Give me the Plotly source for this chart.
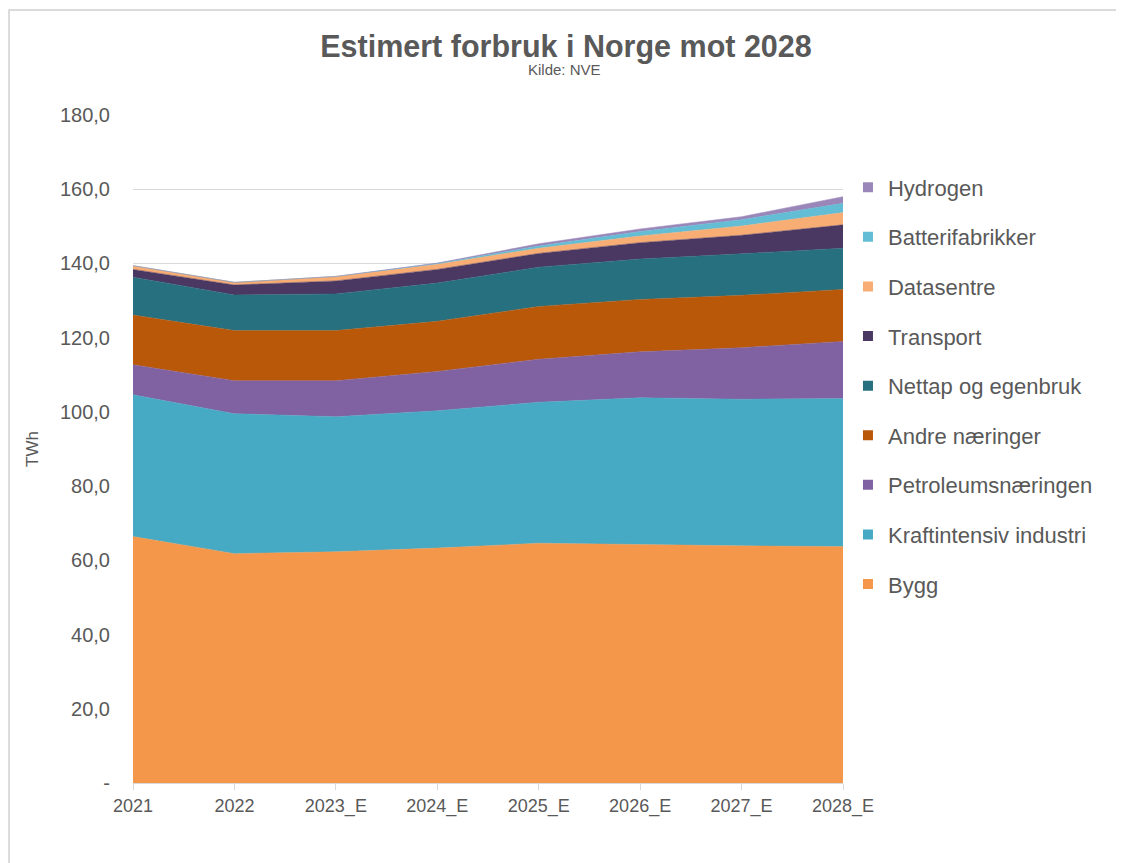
import plotly.graph_objects as go

years = ["2021", "2022", "2023_E", "2024_E", "2025_E", "2026_E", "2027_E", "2028_E"]

bygg = [66.4, 61.8, 62.3, 63.3, 64.6, 64.2, 63.9, 63.7]
kraftintensiv = [38.2, 37.7, 36.4, 37.0, 38.0, 39.6, 39.5, 39.9]
petroleum = [8.1, 8.9, 9.7, 10.6, 11.6, 12.4, 13.9, 15.4]
andre = [13.4, 13.5, 13.5, 13.5, 14.2, 14.1, 14.1, 14.0]
nettap = [10.2, 9.6, 9.9, 10.3, 10.6, 10.9, 11.2, 11.1]
transport = [2.1, 2.7, 3.5, 3.7, 3.7, 4.4, 5.0, 6.3]
datasentre = [1.0, 0.7, 1.2, 1.4, 1.4, 1.8, 2.5, 3.3]
batteri = [0.0, 0.0, 0.0, 0.2, 0.6, 1.2, 1.7, 2.5]
hydrogen = [0.0, 0.0, 0.0, 0.1, 0.6, 0.7, 0.8, 1.8]

y_ticks = [0, 20, 40, 60, 80, 100, 120, 140, 160, 180]
y_ticktext = ["-", "20,0", "40,0", "60,0", "80,0", "100,0", "120,0", "140,0", "160,0", "180,0"]

series = [
    ("Bygg", bygg, "#F4974A"),
    ("Kraftintensiv industri", kraftintensiv, "#47AAC5"),
    ("Petroleumsnæringen", petroleum, "#8062A2"),
    ("Andre næringer", andre, "#BA580A"),
    ("Nettap og egenbruk", nettap, "#27707F"),
    ("Transport", transport, "#4A3863"),
    ("Datasentre", datasentre, "#F7AD74"),
    ("Batterifabrikker", batteri, "#63BDD4"),
    ("Hydrogen", hydrogen, "#9A86B9"),
]

FONT = "Liberation Sans, Arial, sans-serif"
GREY = "#595959"

fig = go.Figure()

# stacked areas (bottom to top)
for name, vals, color in series:
    fig.add_trace(go.Scatter(
        x=years, y=vals,
        name=name,
        mode="lines",
        stackgroup="one",
        showlegend=False,
        line=dict(width=0.5, color=color),
        fillcolor=color,
        hovertemplate=f"{name}<br>%{{x}}: %{{y:.1f}} TWh<extra></extra>",
    ))

# legend entries with square swatches, top layer first
for name, vals, color in reversed(series):
    fig.add_trace(go.Scatter(
        x=[None], y=[None],
        name=name,
        mode="markers",
        legendgroup=name,
        marker=dict(symbol="square", size=10, color=color),
        hoverinfo="skip",
    ))

fig.update_layout(
    width=1116, height=855,
    paper_bgcolor="white",
    plot_bgcolor="white",
    font=dict(family=FONT, color=GREY),
    margin=dict(l=125, r=281, t=107, b=80),
    title=dict(
        text="<b>Estimert forbruk i Norge mot 2028</b>",
        x=0.5, xref="container", xanchor="center",
        y=0.955, yref="container", yanchor="middle",
        font=dict(size=30.5, color=GREY, family=FONT),
    ),
    annotations=[dict(
        text="Kilde: NVE",
        xref="paper", yref="paper",
        x=0.608, y=1.068, xanchor="center", yanchor="middle",
        showarrow=False,
        font=dict(size=15, color=GREY),
    )],
    xaxis=dict(
        type="category",
        range=[0, 7],
        showgrid=False,
        showline=True, linecolor="#D9D9D9", linewidth=1,
        ticks="outside", ticklen=6, tickcolor="#D9D9D9",
        tickfont=dict(size=18, color=GREY),
    ),
    yaxis=dict(
        range=[0, 180],
        tickvals=y_ticks, ticktext=y_ticktext,
        showgrid=True, gridcolor="#D9D9D9", gridwidth=1,
        zeroline=False,
        ticks="", ticklabelstandoff=22,
        tickfont=dict(size=20, color=GREY),
        title=dict(text="TWh", font=dict(size=17, color=GREY), standoff=16),
    ),
    legend=dict(
        x=1.007, xanchor="left",
        y=0.923, yanchor="top",
        traceorder="grouped",
        tracegroupgap=18,
        font=dict(size=22, color=GREY),
        itemwidth=30,
        bgcolor="rgba(0,0,0,0)",
    ),
    shapes=[dict(
        type="rect", xref="paper", yref="paper",
        x0=-0.1746, x1=1.404, y0=-0.145, y1=1.157,
        line=dict(color="#D0D0D0", width=1.5),
        fillcolor="rgba(0,0,0,0)", layer="below",
    )],
)

fig.write_html("out.html")
